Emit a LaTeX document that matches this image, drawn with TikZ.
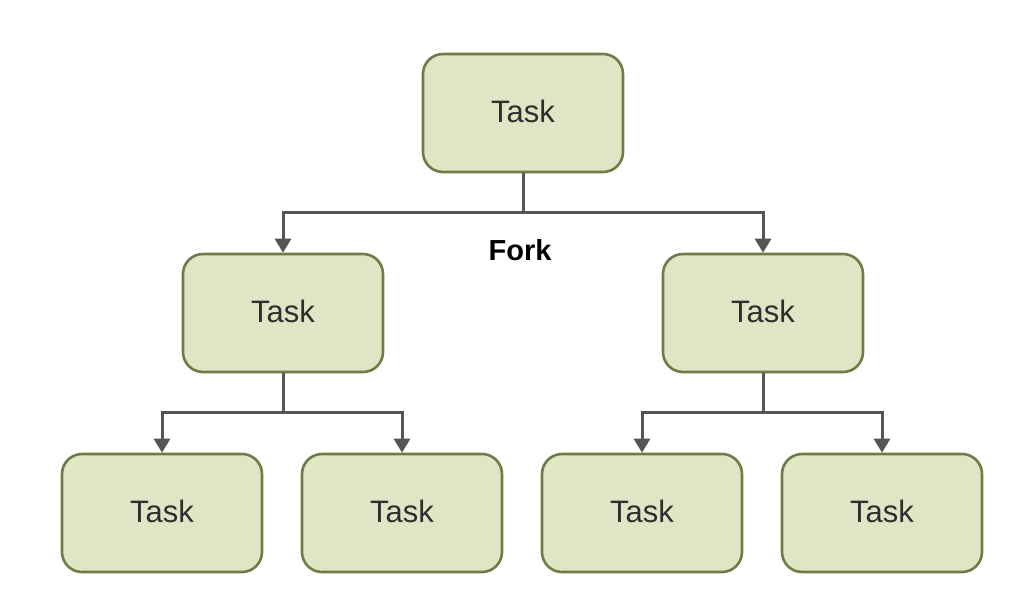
\documentclass[tikz,border=0pt]{standalone}
\usepackage{fontspec}
\setmainfont{Liberation Sans}
\usetikzlibrary{arrows.meta}
\definecolor{taskfill}{HTML}{DFE6C6}
\definecolor{taskdraw}{HTML}{6E7C45}
\definecolor{linkcol}{HTML}{555555}
\definecolor{txtcol}{HTML}{2E2E2E}
\begin{document}
\begin{tikzpicture}[x=1pt,y=-1pt,
  taskbox/.style={draw=taskdraw,fill=taskfill,line width=2.6pt,rounded corners=20pt,
    minimum width=200pt,minimum height=118pt,inner sep=0pt,
    font=\fontsize{31}{34}\selectfont,text=txtcol,
    text depth=3pt},
  link/.style={draw=linkcol,line width=3pt},
  arr/.style={link,-{Triangle[length=14pt,width=16pt]}}]
\useasboundingbox (0,0) rectangle (1028,600);
\node[taskbox] (t0) at (523,113) {Task};
\node[taskbox] (t1) at (283,313) {Task};
\node[taskbox] (t2) at (763,313) {Task};
\node[taskbox] (b1) at (162,513) {Task};
\node[taskbox] (b2) at (402,513) {Task};
\node[taskbox] (b3) at (642,513) {Task};
\node[taskbox] (b4) at (882,513) {Task};
\node[font=\bfseries\fontsize{29}{34}\selectfont,text=black] (fork) at (520,250) {Fork};
% top fork
\coordinate (j0) at (t0.south |- 0,212);
\draw[link] (t0.south) -- (j0);
\draw[arr] (j0) -| (t1.north);
\draw[arr] (j0) -| (t2.north);
% left fork
\coordinate (j1) at (t1.south |- 0,412);
\draw[link] (t1.south) -- (j1);
\draw[arr] (j1) -| (b1.north);
\draw[arr] (j1) -| (b2.north);
% right fork
\coordinate (j2) at (t2.south |- 0,412);
\draw[link] (t2.south) -- (j2);
\draw[arr] (j2) -| (b3.north);
\draw[arr] (j2) -| (b4.north);
\end{tikzpicture}
\end{document}
